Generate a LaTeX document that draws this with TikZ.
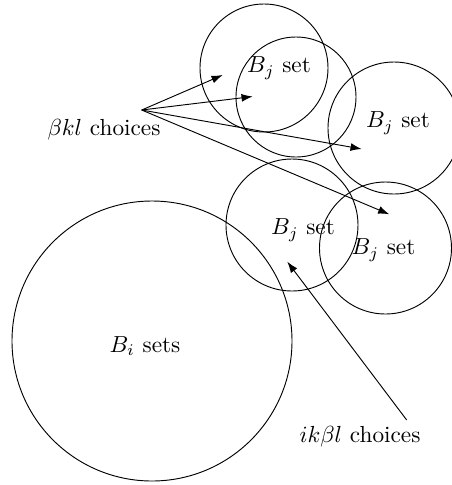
\documentclass[tikz,border=0pt]{standalone}
\usetikzlibrary{arrows.meta}
\begin{document}
\begin{tikzpicture}[x=0.43pt,y=-0.43pt,
  setcirc/.style={circle,draw,inner sep=0pt,minimum size={2*#1*0.43pt}},
  lbl/.style={inner sep=0pt,anchor=center},
  arr/.style={-{Latex[length=4.8pt,width=3.4pt]}}]
\useasboundingbox (0,0) rectangle (452,485);
\node[setcirc=64] (c1) at (264,68) {};
\node[setcirc=60] (c2) at (296,97) {};
\node[setcirc=66] (c3) at (394,128) {};
\node[setcirc=66] (c4) at (292,225) {};
\node[setcirc=66] (c5) at (385.5,248) {};
\node[setcirc=140] (big) at (152,341) {};
\node[lbl] (t1) at (279,68) {$B_j$ set};
\node[lbl] (t3) at (398,123) {$B_j$ set};
\node[lbl] (t4) at (303,230) {$B_j$ set};
\node[lbl] (t5) at (383.5,250) {$B_j$ set};
\node[lbl] (ti) at (145,346) {$B_i$ sets};
\node[lbl] (tb) at (104,130) {$\beta kl$ choices};
\node[lbl] (tk) at (360,437) {$ik\beta l$ choices};
\coordinate (s1) at (141.7,110);
\coordinate (e1) at (222.7,75);
\coordinate (e2) at (252.7,96.5);
\coordinate (e3) at (361.7,149);
\coordinate (e4) at (389.3,214.3);
\coordinate (s2) at (406.7,420);
\coordinate (e5) at (287.3,261.7);
\draw[arr] (s1) -- (e1);
\draw[arr] (s1) -- (e2);
\draw[arr] (s1) -- (e3);
\draw[arr] (s1) -- (e4);
\draw[arr] (s2) -- (e5);
\end{tikzpicture}
\end{document}
